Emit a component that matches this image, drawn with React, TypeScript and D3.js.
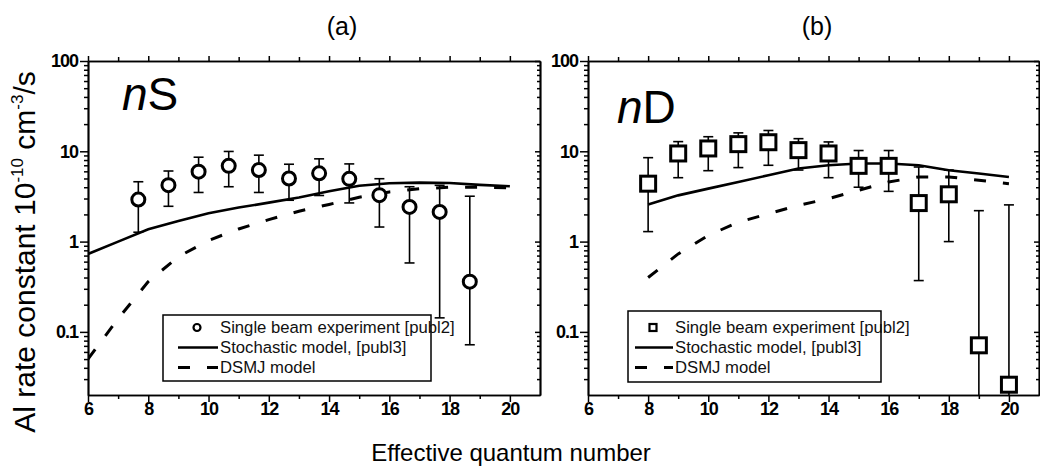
import React, { useEffect, useRef } from 'react';
import * as d3 from 'd3';

// axis ticks
const xTickValues = [6, 8, 10, 12, 14, 16, 18, 20];
const xMinorValues = [7, 9, 11, 13, 15, 17, 19];
const yTickValues = [0.1, 1, 10, 100];
const yMinorValues = [0.03, 0.04, 0.05, 0.06, 0.07, 0.08, 0.09,
  0.2, 0.3, 0.4, 0.5, 0.6, 0.7, 0.8, 0.9,
  2, 3, 4, 5, 6, 7, 8, 9,
  20, 30, 40, 50, 60, 70, 80, 90];

// (a) nS states
const nsExpN = [7.67, 8.67, 9.67, 10.67, 11.67, 12.67, 13.67, 14.67, 15.67, 16.67, 17.67, 18.67];
const nsExpRate = [2.92, 4.22, 5.95, 6.9, 6.2, 5.0, 5.7, 4.95, 3.27, 2.42, 2.13, 0.36];
const nsExpHigh = [4.6, 6.05, 8.6, 9.96, 9.06, 7.19, 8.25, 7.25, 4.97, 4.05, 4.2, 3.18];
const nsExpLow = [1.27, 2.46, 3.5, 4.05, 3.5, 2.87, 3.24, 2.68, 1.45, 0.58, 0.143, 0.072];
const nsModelN = [6, 7, 8, 9, 10, 11, 12, 13, 14, 15, 16, 17, 18, 19, 20];
const nsStochastic = [0.73, 1.0, 1.37, 1.69, 2.06, 2.38, 2.7, 3.08, 3.61, 4.16, 4.43, 4.5, 4.45, 4.25, 4.1];
const nsDsmj = [0.05, 0.14, 0.36, 0.68, 1.03, 1.38, 1.75, 2.17, 2.58, 3.1, 3.55, 3.85, 4.0, 4.0, 3.95];

// (b) nD states
const ndExpN = [8, 9, 10, 11, 12, 13, 14, 15, 16, 17, 18, 19, 20];
const ndExpRate = [4.38, 9.46, 10.75, 12.0, 12.6, 10.3, 9.46, 6.9, 6.9, 2.67, 3.34, 0.071, 0.026];
const ndExpHigh = [8.5, 12.8, 14.5, 16.0, 17.0, 13.8, 12.7, 10.2, 10.2, 6.7, 6.2, 2.2, 2.55];
const ndExpLow = [1.29, 5.1, 6.1, 6.6, 7.0, 6.2, 5.1, 4.0, 3.6, 0.37, 1.0, 0.005, 0.005];
const ndModelN = [8, 9, 10, 11, 12, 13, 14, 15, 16, 17, 18, 19, 20];
const ndStochastic = [2.58, 3.25, 3.86, 4.58, 5.43, 6.44, 7.0, 7.33, 7.33, 7.0, 6.17, 5.67, 5.2];
const ndDsmj = [0.4, 0.73, 1.17, 1.64, 2.03, 2.52, 2.99, 3.7, 4.58, 5.2, 5.2, 4.78, 4.38];

const legendLabels = ['Single beam experiment [publ2]', 'Stochastic model, [publ3]', 'DSMJ model'];

const W = 1040;
const H = 471;
const TOP = 61;
const BOTTOM = 395;
const FONT = "'Liberation Sans', Arial, Helvetica, sans-serif";

export default function App() {
  const ref = useRef<SVGSVGElement>(null);

  useEffect(() => {
    const svg = d3.select(ref.current);
    svg.selectAll('*').remove();
    svg.append('rect').attr('width', W).attr('height', H).attr('fill', '#fff');

    const y = d3.scaleLog().domain([0.02, 100]).range([BOTTOM, TOP]);

    const panels = [
      {
        id: 'a', left: 88, right: 540, title: '(a)', titleX: 342, tag: 'S', tagX: 122, tagY: 110,
        box: [163, 315, 431, 381], symX: 197, lineX: [178, 218], textX: 220, shape: 'circle',
        expN: nsExpN, expRate: nsExpRate, expHigh: nsExpHigh, expLow: nsExpLow,
        modelN: nsModelN, stoch: nsStochastic, dsmj: nsDsmj,
      },
      {
        id: 'b', left: 588, right: 1039, title: '(b)', titleX: 817, tag: 'D', tagX: 617, tagY: 123,
        box: [628, 311, 881, 382], symX: 653, lineX: [635, 673], textX: 675, shape: 'square',
        expN: ndExpN, expRate: ndExpRate, expHigh: ndExpHigh, expLow: ndExpLow,
        modelN: ndModelN, stoch: ndStochastic, dsmj: ndDsmj,
      },
    ];

    const styleAxis = (g, labels = true) => {
      g.selectAll('.domain').attr('stroke', '#000').attr('stroke-width', 1.7);
      g.selectAll('.tick line').attr('stroke', '#000').attr('stroke-width', 1.5);
      if (labels) {
        g.attr('font-family', FONT).attr('font-size', 18).attr('font-weight', 'bold');
        g.selectAll('text').attr('fill', '#000').attr('letter-spacing', '-1');
      }
    };

    panels.forEach((p) => {
      const x = d3.scaleLinear().domain([6, 21]).range([p.left, p.right]);
      const g = svg.append('g');

      // clip to plot box
      const clipId = `clip-${p.id}`;
      g.append('clipPath').attr('id', clipId)
        .append('rect').attr('x', p.left).attr('y', TOP).attr('width', p.right - p.left).attr('height', BOTTOM - TOP);

      const plot = g.append('g').attr('clip-path', `url(#${clipId})`);

      const line = d3.line<number>()
        .x((d, i) => x(p.modelN[i]))
        .y((d) => y(d));

      plot.append('path').attr('d', line(p.stoch)).attr('fill', 'none')
        .attr('stroke', '#000').attr('stroke-width', 2.6);
      plot.append('path').attr('d', line(p.dsmj)).attr('fill', 'none')
        .attr('stroke', '#000').attr('stroke-width', 3).attr('stroke-dasharray', '12,17');

      // error bars
      const err = plot.append('g').attr('stroke', '#000').attr('stroke-width', 1.6);
      p.expN.forEach((n, i) => {
        const cx = x(n);
        const yh = y(p.expHigh[i]);
        const yl = y(p.expLow[i]);
        err.append('line').attr('x1', cx).attr('x2', cx).attr('y1', yh).attr('y2', yl);
        err.append('line').attr('x1', cx - 5).attr('x2', cx + 5).attr('y1', yh).attr('y2', yh);
        err.append('line').attr('x1', cx - 5).attr('x2', cx + 5).attr('y1', yl).attr('y2', yl);
      });

      // symbols
      const sym = plot.append('g').attr('fill', '#fff').attr('stroke', '#000').attr('stroke-width', 3);
      p.expN.forEach((n, i) => {
        const cx = x(n);
        const cy = y(p.expRate[i]);
        if (p.shape === 'circle') {
          sym.append('circle').attr('cx', cx).attr('cy', cy).attr('r', 6.5);
        } else {
          sym.append('rect').attr('x', cx - 7.5).attr('y', cy - 7.5).attr('width', 15).attr('height', 15);
        }
      });

      // axes
      const bottom = g.append('g').attr('transform', `translate(0,${BOTTOM})`)
        .call(d3.axisBottom(x).tickValues(xTickValues).tickSize(7).tickSizeOuter(0).tickPadding(0).tickFormat(d3.format('d')));
      styleAxis(bottom);
      const bottomMinor = g.append('g').attr('transform', `translate(0,${BOTTOM})`)
        .call(d3.axisBottom(x).tickValues(xMinorValues).tickSize(4).tickSizeOuter(0).tickFormat(() => ''));
      styleAxis(bottomMinor, false);

      const top = g.append('g').attr('transform', `translate(0,${TOP})`)
        .call(d3.axisTop(x).tickValues(xTickValues).tickSize(5).tickSizeOuter(0).tickFormat(() => ''));
      styleAxis(top, false);
      const topMinor = g.append('g').attr('transform', `translate(0,${TOP})`)
        .call(d3.axisTop(x).tickValues(xMinorValues).tickSize(4).tickSizeOuter(0).tickFormat(() => ''));
      styleAxis(topMinor, false);

      const left = g.append('g').attr('transform', `translate(${p.left},0)`)
        .call(d3.axisLeft(y).tickValues(yTickValues).tickSize(8).tickSizeOuter(0).tickPadding(2).tickFormat((d) => String(d)));
      styleAxis(left);
      const leftMinor = g.append('g').attr('transform', `translate(${p.left},0)`)
        .call(d3.axisLeft(y).tickValues(yMinorValues).tickSize(4).tickSizeOuter(0).tickFormat(() => ''));
      styleAxis(leftMinor, false);

      const right = g.append('g').attr('transform', `translate(${p.right},0)`)
        .call(d3.axisRight(y).tickValues(yTickValues).tickSize(-5).tickSizeOuter(0).tickFormat(() => ''));
      styleAxis(right, false);
      const rightMinor = g.append('g').attr('transform', `translate(${p.right},0)`)
        .call(d3.axisRight(y).tickValues(yMinorValues).tickSize(-3).tickSizeOuter(0).tickFormat(() => ''));
      styleAxis(rightMinor, false);

      // titles
      g.append('text').attr('x', p.titleX).attr('y', 35).attr('text-anchor', 'middle')
        .attr('font-family', FONT).attr('font-size', 25).text(p.title);
      const tag = g.append('text').attr('x', p.tagX).attr('y', p.tagY)
        .attr('font-family', FONT).attr('font-size', 46);
      tag.append('tspan').attr('font-style', 'italic').text('n');
      tag.append('tspan').text(p.tag);

      // legend
      const [bx0, by0, bx1, by1] = p.box;
      const lg = g.append('g');
      lg.append('rect').attr('x', bx0).attr('y', by0).attr('width', bx1 - bx0).attr('height', by1 - by0)
        .attr('fill', '#fff').attr('stroke', '#000').attr('stroke-width', 1.5);
      const rows = [327.5, 347.5, 367.5];
      if (p.shape === 'circle') {
        lg.append('circle').attr('cx', p.symX).attr('cy', rows[0]).attr('r', 3.5)
          .attr('fill', '#fff').attr('stroke', '#000').attr('stroke-width', 2.2);
      } else {
        lg.append('rect').attr('x', p.symX - 3.5).attr('y', rows[0] - 3.5).attr('width', 7).attr('height', 7)
          .attr('fill', '#fff').attr('stroke', '#000').attr('stroke-width', 2.2);
      }
      lg.append('line').attr('x1', p.lineX[0]).attr('x2', p.lineX[1]).attr('y1', rows[1]).attr('y2', rows[1])
        .attr('stroke', '#000').attr('stroke-width', 2.6);
      lg.append('line').attr('x1', p.lineX[0]).attr('x2', p.lineX[1]).attr('y1', rows[2]).attr('y2', rows[2])
        .attr('stroke', '#000').attr('stroke-width', 3).attr('stroke-dasharray', '12,17');
      legendLabels.forEach((t, i) => {
        lg.append('text').attr('x', p.textX).attr('y', rows[i] + 5.5)
          .attr('font-family', FONT).attr('font-size', 16.7).attr('fill', '#111').text(t);
      });
    });

    // axis titles
    svg.append('text').attr('x', 511).attr('y', 461).attr('text-anchor', 'middle')
      .attr('font-family', FONT).attr('font-size', 24).text('Effective quantum number');

    const yl = svg.append('text').attr('transform', 'translate(35,252) rotate(-90)')
      .attr('text-anchor', 'middle').attr('font-family', FONT).attr('font-size', 30);
    yl.append('tspan').text('Al rate constant 10');
    yl.append('tspan').attr('font-size', 17).attr('dy', -12).text('-10');
    yl.append('tspan').attr('dy', 12).text(' cm');
    yl.append('tspan').attr('font-size', 17).attr('dy', -12).text('-3');
    yl.append('tspan').attr('dy', 12).text('/s');
  }, []);

  return (
    <svg ref={ref} width={W} height={H}
      style={{ position: 'absolute', left: 0, top: 0, display: 'block' }} />
  );
}
